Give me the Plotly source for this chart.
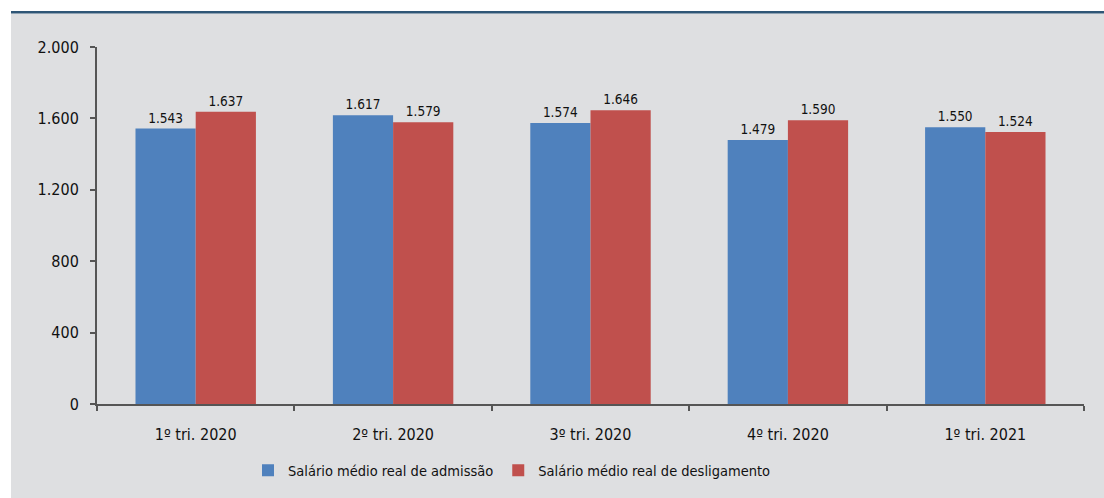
import plotly.graph_objects as go

# Quarterly average real wages (R$)
categories = ["1º tri. 2020", "2º tri. 2020", "3º tri. 2020", "4º tri. 2020", "1º tri. 2021"]
admissao = [1543, 1617, 1574, 1479, 1550]
desligamento = [1637, 1579, 1646, 1590, 1524]
y_ticks = [0, 400, 800, 1200, 1600, 2000]

FONT = "Liberation Sans Narrow, Arial Narrow, DejaVu Sans Condensed, sans-serif"
BLUE = "#4f81bd"
RED = "#c0504d"
PANEL = "#dedfe1"
AXIS = "#555555"
TEXT = "#111111"

fig = go.Figure()
fig.add_trace(go.Bar(
    x=categories, y=admissao, name="Salário médio real de admissão",
    marker=dict(color=BLUE, line=dict(width=0)),
    texttemplate="%{y:,.0f}", textposition="outside",
    textfont=dict(family=FONT, size=13.5, color=TEXT), cliponaxis=False,
))
fig.add_trace(go.Bar(
    x=categories, y=desligamento, name="Salário médio real de desligamento",
    marker=dict(color=RED, line=dict(width=0)),
    texttemplate="%{y:,.0f}", textposition="outside",
    textfont=dict(family=FONT, size=13.5, color=TEXT), cliponaxis=False,
))

# Page framing: white outer strip, blue rule and grey panel behind the chart
W, H = 1104, 498
L, R, T, B = 97, 20, 47, 90
pw, ph = W - L - R, H - T - B


def px_x(v):
    return (v - L) / pw


def px_y(v):
    return (H - B - v) / ph


fig.add_shape(type="rect", xref="paper", yref="paper",
              x0=px_x(11), x1=px_x(W + 5), y0=px_y(H + 5), y1=px_y(13),
              fillcolor=PANEL, line=dict(width=0), layer="below")
fig.add_shape(type="rect", xref="paper", yref="paper",
              x0=px_x(11), x1=px_x(W + 5), y0=px_y(13), y1=px_y(10.5),
              fillcolor="#2f5676", line=dict(width=0), layer="below")

fig.update_layout(
    width=W, height=H,
    margin=dict(l=L, r=R, t=T, b=B),
    paper_bgcolor="white", plot_bgcolor="rgba(0,0,0,0)",
    separators=",.",
    barmode="group", bargap=0.39, bargroupgap=0,
    font=dict(family=FONT, color=TEXT),
    showlegend=True,
    legend=dict(orientation="h", x=px_x(248), xanchor="left", y=px_y(475), yanchor="middle",
                font=dict(family=FONT, size=14.5, color=TEXT),
                bgcolor="rgba(0,0,0,0)", itemclick=False),
    xaxis=dict(
        tickson="boundaries", ticks="outside", ticklen=5, tickwidth=2, tickcolor=AXIS,
        showline=True, linecolor=AXIS, linewidth=2, showgrid=False,
        ticklabelstandoff=15,
        tickfont=dict(family=FONT, size=16, color=TEXT),
    ),
    yaxis=dict(
        range=[0, 2000], tickvals=y_ticks, tickformat=",.0f",
        ticks="outside", ticklen=5, tickwidth=2, tickcolor=AXIS,
        showline=True, linecolor=AXIS, linewidth=2, showgrid=False, zeroline=False,
        ticklabelstandoff=8,
        tickfont=dict(family=FONT, size=16, color=TEXT),
    ),
)

fig.write_html("out.html")
